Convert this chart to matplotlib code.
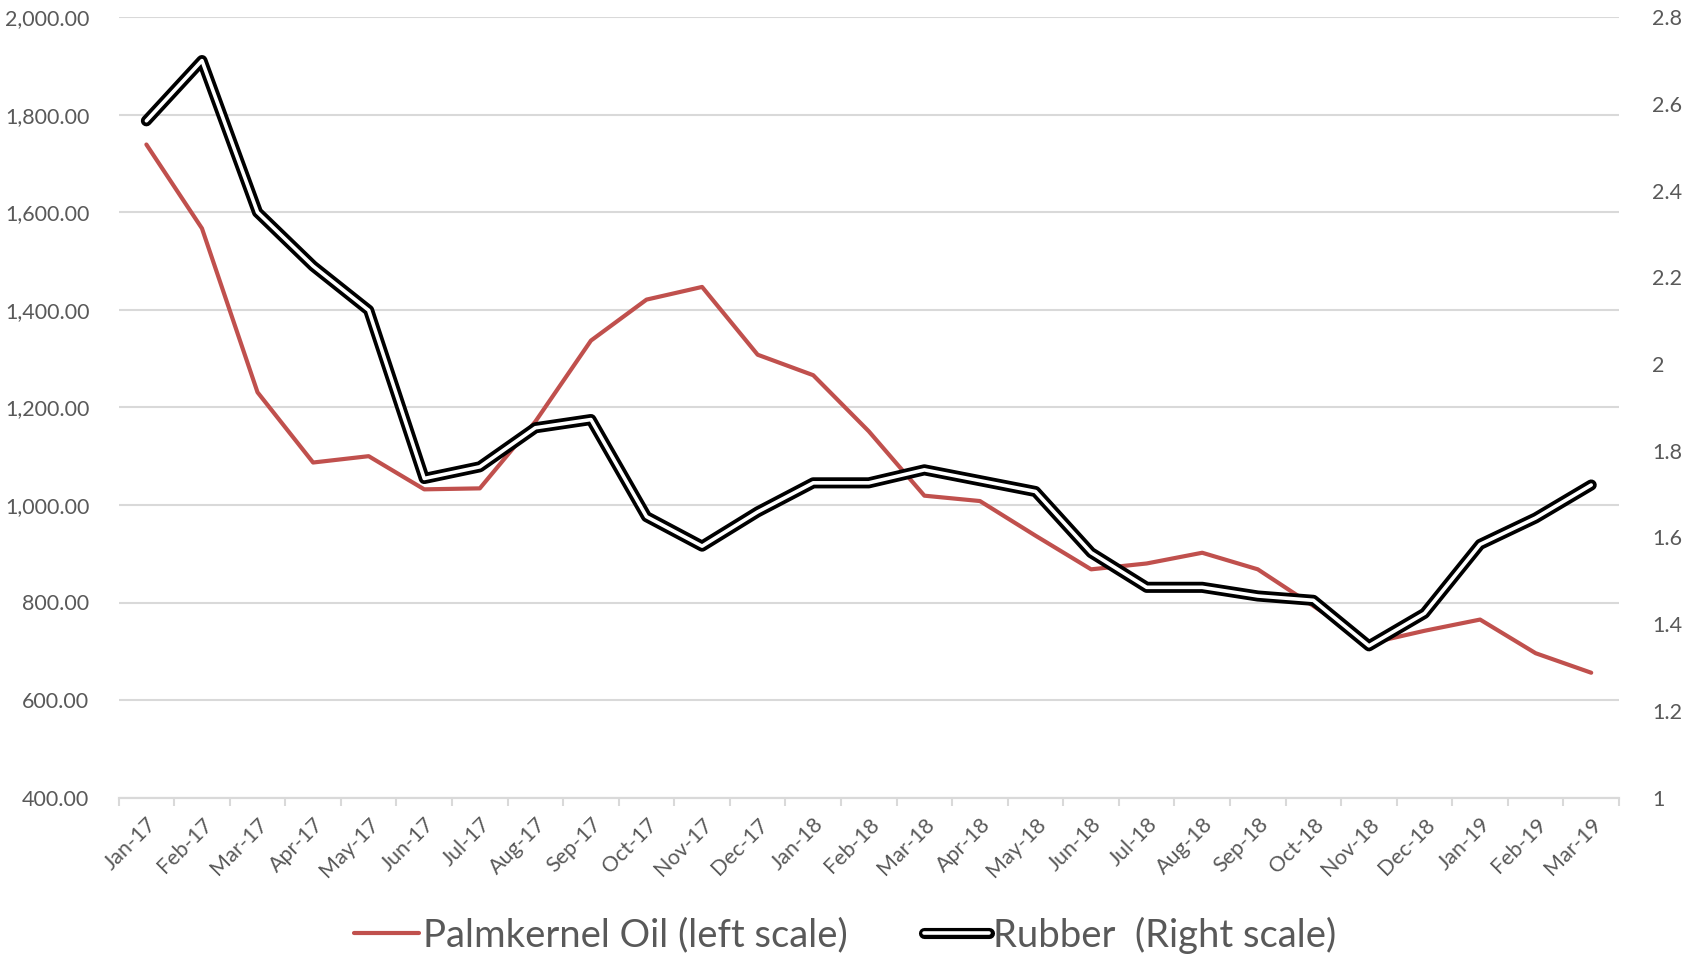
import matplotlib
matplotlib.use("Agg")
import matplotlib.pyplot as plt
import matplotlib.patheffects as pe
from matplotlib.ticker import FuncFormatter, FixedLocator
import numpy as np

months = ["Jan-17", "Feb-17", "Mar-17", "Apr-17", "May-17", "Jun-17", "Jul-17", "Aug-17",
          "Sep-17", "Oct-17", "Nov-17", "Dec-17", "Jan-18", "Feb-18", "Mar-18", "Apr-18",
          "May-18", "Jun-18", "Jul-18", "Aug-18", "Sep-18", "Oct-18", "Nov-18", "Dec-18",
          "Jan-19", "Feb-19", "Mar-19"]
palmkernel = [1739, 1567, 1231, 1087, 1100, 1032, 1034, 1171, 1337, 1421, 1447, 1308,
              1266, 1151, 1019, 1008, 937, 868, 880, 902, 868, 793, 716, 742, 765, 696, 656]
rubber = [2.561, 2.700, 2.350, 2.226, 2.124, 1.736, 1.763, 1.853, 1.872, 1.648, 1.580,
          1.659, 1.726, 1.726, 1.756, 1.731, 1.706, 1.565, 1.485, 1.485, 1.465, 1.455,
          1.350, 1.425, 1.584, 1.645, 1.721]
left_ticks = [400, 600, 800, 1000, 1200, 1400, 1600, 1800, 2000]
right_ticks = [1, 1.2, 1.4, 1.6, 1.8, 2, 2.2, 2.4, 2.6, 2.8]

plt.rcParams['font.family'] = ['Lato', 'DejaVu Sans']
txt = '#595959'
grid = '#D9D9D9'

fig = plt.figure(figsize=(16.9, 9.58), dpi=100)
ax = fig.add_axes([118.6 / 1690, 1 - 797.6 / 958, (1619 - 118.6) / 1690, (797.6 - 17.2) / 958])
ax2 = ax.twinx()

x = np.arange(len(months))
ax.plot(x, palmkernel, color='#C0504D', lw=3.0, solid_joinstyle='round',
        solid_capstyle='round', label='Palmkernel Oil (left scale)', zorder=3)
ax2.plot(x, rubber, color='white', lw=2.6, solid_joinstyle='round', solid_capstyle='round',
         path_effects=[pe.Stroke(linewidth=8.0, foreground='black'), pe.Normal()],
         label='Rubber  (Right scale)', zorder=3)

ax.set_xlim(-0.5, len(months) - 0.5)
ax.set_ylim(400, 2000)
ax2.set_ylim(1, 2.8)
ax.set_yticks(left_ticks)
ax2.set_yticks(right_ticks)
ax.yaxis.set_major_formatter(FuncFormatter(lambda v, p: f"{v:,.2f}"))
ax2.yaxis.set_major_formatter(FuncFormatter(lambda v, p: f"{v:g}"))

ax.set_xticks(x)
ax.set_xticklabels(months, rotation=45, ha='right', rotation_mode='anchor')
ax.xaxis.set_minor_locator(FixedLocator(np.arange(-0.5, len(months), 1.0)))
ax.tick_params(axis='x', which='major', length=0, pad=12, labelsize=15.5, colors=txt)
ax.tick_params(axis='x', which='minor', length=6, width=1.5, color=grid)
ax.tick_params(axis='y', length=0, pad=21, labelsize=15.5, colors=txt)
ax2.tick_params(axis='y', length=0, pad=24, labelsize=15.5, colors=txt)

ax.grid(axis='y', color=grid, lw=1.5)
ax.set_axisbelow(True)
for a in (ax, ax2):
    for s in ('top', 'left', 'right'):
        a.spines[s].set_visible(False)
    a.spines['bottom'].set_color(grid)
    a.spines['bottom'].set_linewidth(1.5)

h1, l1 = ax.get_legend_handles_labels()
h2, l2 = ax2.get_legend_handles_labels()
fig.legend(h1 + h2, l1 + l2, loc='center', bbox_to_anchor=(0.5, 1 - 935 / 958), ncol=2,
           frameon=False, fontsize=27.5, labelcolor=txt, handlelength=1.7, handletextpad=0.1,
           columnspacing=2.0)

fig.savefig('out.png', dpi=100)
